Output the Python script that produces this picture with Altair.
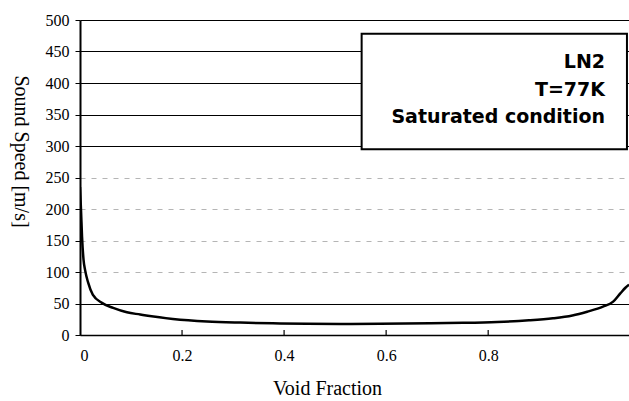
import altair as alt
import pandas as pd

# ---- data ----
void_fraction = [0, 0.002, 0.004, 0.007, 0.01, 0.016, 0.025, 0.043, 0.065, 0.092,
                 0.118, 0.133, 0.182, 0.249, 0.314, 0.378, 0.445, 0.51, 0.588, 0.686,
                 0.751, 0.818, 0.86, 0.88, 0.927, 0.965, 0.994, 1.025, 1.045, 1.059,
                 1.069, 1.076]
sound_speed = [235, 198, 156, 119, 103, 83, 64, 51, 43, 36,
               32.5, 30.5, 25.5, 21.5, 19.7, 18.6, 17.7, 17.5, 17.9, 18.6,
               19.4, 20.8, 22.3, 23.3, 26.5, 31, 37, 45, 53, 66,
               75, 80]
x_tick_values = [0, 0.2, 0.4, 0.6, 0.8]
y_tick_values = [0, 50, 100, 150, 200, 250, 300, 350, 400, 450, 500]
note_lines = ["LN2", "T=77K", "Saturated condition"]
note_line_speed = [434, 389, 346]
note_anchor_fraction = 1.029
note_box = {"x": [0.552], "x2": [1.072], "y": [295], "y2": [478]}

curve_df = pd.DataFrame({"alpha": void_fraction, "speed": sound_speed})
tick_df = pd.DataFrame({"alpha": x_tick_values[1:], "y0": [0] * 4, "y1": [8] * 4})
box_df = pd.DataFrame(note_box)
text_df = pd.DataFrame({"label": note_lines, "speed": note_line_speed,
                        "alpha": [note_anchor_fraction] * len(note_lines)})

x_scale = alt.Scale(domain=[0, 1.076], nice=False, zero=False)
y_scale = alt.Scale(domain=[0, 500], nice=False)

serif = "'Liberation Serif', 'Times New Roman', serif"
faint = "datum.value >= 100 && datum.value <= 250"

x_axis = alt.Axis(
    title="Void Fraction", values=x_tick_values, format="~g", labelOverlap=False,
    labelFont=serif, labelFontSize=16, labelColor="black", labelPadding=12,
    ticks=False, grid=False, domainColor="black", domainWidth=1.5,
    titleFont=serif, titleFontSize=20, titleFontWeight="normal", titleColor="black",
    titleX=247, titleY=53, titleAlign="center", titleBaseline="middle",
)
y_axis = alt.Axis(
    title="Sound Speed [m/s]", values=y_tick_values, labelOverlap=False,
    labelFont=serif, labelFontSize=16, labelColor="black", labelPadding=6,
    tickSize=5, tickColor="black", domainColor="black", domainWidth=2,
    grid=True, gridWidth=1.2,
    gridColor={"condition": {"test": faint, "value": "#b5b5b5"}, "value": "black"},
    gridDash={"condition": {"test": faint, "value": [5, 6]}, "value": []},
    titleFont=serif, titleFontSize=20, titleFontWeight="normal", titleColor="black",
    titleAngle=90, titleX=-60, titleY=131, titleAlign="center", titleBaseline="middle",
)

curve = alt.Chart(curve_df).mark_line(
    color="black", strokeWidth=2.5, clip=True, interpolate="monotone"
).encode(
    x=alt.X("alpha:Q", scale=x_scale, axis=x_axis),
    y=alt.Y("speed:Q", scale=y_scale, axis=y_axis),
)

ticks = alt.Chart(tick_df).mark_rule(color="black", strokeWidth=1.2).encode(
    x=alt.X("alpha:Q", scale=x_scale, axis=x_axis),
    y=alt.Y("y0:Q", scale=y_scale, axis=y_axis),
    y2="y1:Q",
)

box = alt.Chart(box_df).mark_rect(fill="white", stroke="black", strokeWidth=2).encode(
    x=alt.X("x:Q", scale=x_scale, axis=x_axis),
    x2="x2:Q",
    y=alt.Y("y:Q", scale=y_scale, axis=y_axis),
    y2="y2:Q",
)

text = alt.Chart(text_df).mark_text(
    align="right", baseline="middle", font="DejaVu Sans", fontWeight="bold",
    fontSize=19, color="black"
).encode(
    x=alt.X("alpha:Q", scale=x_scale, axis=x_axis),
    y=alt.Y("speed:Q", scale=y_scale, axis=y_axis),
    text="label:N",
)

chart = alt.layer(curve, ticks, box, text).properties(
    width=549, height=315,
    autosize=alt.AutoSizeParams(type="none"),
    padding={"left": 80, "top": 20, "right": 0, "bottom": 66},
    background="white",
).configure_view(stroke=None).configure_axis(
    labelFont=serif, titleFont=serif
).configure_axisX(labelFont=serif).configure_axisY(labelFont=serif)

chart.save("out.html", embed_options={"renderer": "svg", "actions": False})
